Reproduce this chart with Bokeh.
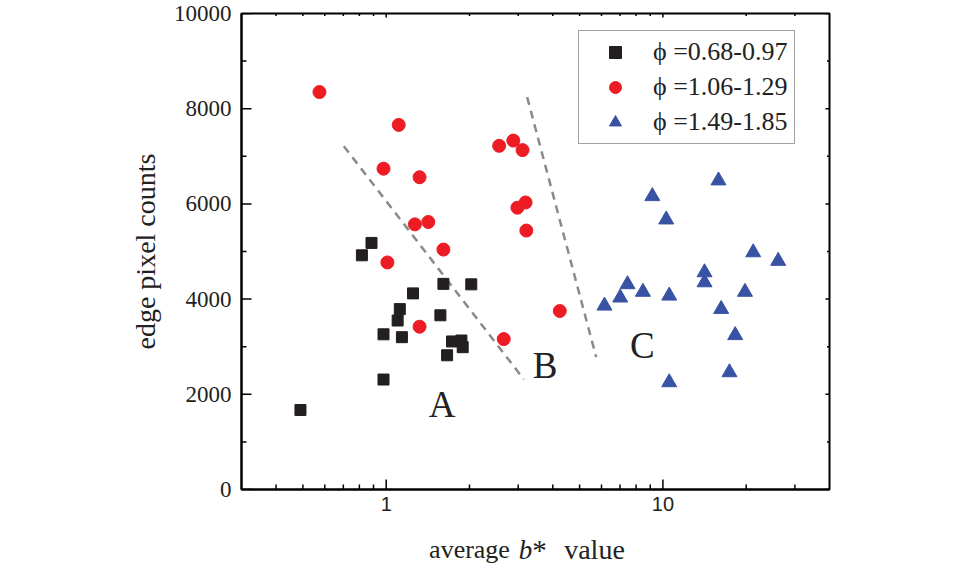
import numpy as np
from bokeh.plotting import figure
from bokeh.models import (FixedTicker, Label, Legend, LegendItem, ColumnDataSource)
from bokeh.core.properties import value
from bokeh.embed import file_html
from bokeh.resources import INLINE

# ---- data ----
sq_x = [0.49, 0.885, 0.817, 1.61, 2.03, 1.25, 1.12, 1.10, 1.57, 0.978, 1.14, 1.73, 1.87, 1.89, 1.66, 0.978]
sq_y = [1670, 5180, 4920, 4320, 4310, 4120, 3790, 3550, 3660, 3260, 3200, 3110, 3130, 2990, 2820, 2310]

ci_x = [0.574, 1.11, 0.978, 1.32, 2.56, 2.88, 3.11, 3.19, 2.98, 3.21, 1.27, 1.42, 1.61, 1.01, 1.32, 2.66, 4.24]
ci_y = [8350, 7660, 6740, 6560, 7220, 7330, 7130, 6030, 5920, 5440, 5570, 5620, 5040, 4770, 3420, 3160, 3750]

tr_x = [15.88, 9.16, 10.28, 21.2, 26.1, 14.14, 14.14, 7.45, 8.47, 7.01, 10.54, 19.8, 6.15, 16.24, 18.25, 17.4, 10.54]
tr_y = [6490, 6160, 5670, 4980, 4800, 4560, 4350, 4310, 4150, 4030, 4070, 4150, 3860, 3790, 3240, 2460, 2250]

series_labels = ["\u03d5 =0.68-0.97", "\u03d5 =1.06-1.29", "\u03d5 =1.49-1.85"]

line_ab_x = [0.703, 3.146]
line_ab_y = [7212, 2311]
line_bc_x = [3.232, 5.74]
line_bc_y = [8242, 2780]

region_names = ["A", "B", "C"]
region_x = [1.594, 3.755, 8.42]
region_y = [1786, 2605, 3025]

x_major = [1, 10]
x_minor = [0.4, 0.5, 0.6, 0.7, 0.8, 0.9, 2, 3, 4, 5, 6, 7, 8, 9, 20, 30]
y_major = [0, 2000, 4000, 6000, 8000, 10000]
y_minor = [1000, 3000, 5000, 7000, 9000]

X0, X1 = 0.3, 40.0
Y0, Y1 = 0.0, 10000.0

SERIF = "Liberation Serif"
SANS = "Liberation Sans"
INK = "#222222"

W, H = 960, 563
BL, BR, BT, BB = 241, 131, 13, 74
FW, FH = W - BL - BR, H - BT - BB

p = figure(width=W, height=H, x_axis_type="log", x_range=(X0, X1), y_range=(Y0, Y1),
           output_backend="svg", toolbar_location=None, title=None,
           min_border_left=BL, min_border_right=BR, min_border_top=BT, min_border_bottom=BB)
p.grid.visible = False
p.outline_line_color = "black"
p.outline_line_width = 2
p.background_fill_color = "white"
p.border_fill_color = "white"

xt = FixedTicker(ticks=x_major, minor_ticks=x_minor)
yt = FixedTicker(ticks=y_major, minor_ticks=y_minor)

xa = p.xaxis[0]
xa.ticker = xt
xa.major_tick_in = 0
xa.major_tick_out = 0
xa.minor_tick_in = 0
xa.minor_tick_out = 0
xa.axis_line_width = 2
xa.major_label_text_font = SANS
xa.major_label_text_font_size = "20px"
xa.major_label_text_color = INK
xa.major_label_standoff = 7
xa.major_label_overrides = {1: "1", 10: "10"}

ya = p.yaxis[0]
ya.ticker = yt
ya.major_tick_in = 0
ya.major_tick_out = 0
ya.minor_tick_in = 0
ya.minor_tick_out = 0
ya.axis_line_width = 2
ya.major_label_text_font = SERIF
ya.major_label_text_font_size = "23px"
ya.major_label_text_color = INK
ya.major_label_standoff = 10
ya.axis_label = "edge pixel counts"
ya.axis_label_text_font = SERIF
ya.axis_label_text_font_size = "28px"
ya.axis_label_text_font_style = "normal"
ya.axis_label_text_color = INK
ya.axis_label_standoff = 10

# ---- inward tick marks (positions from tick lists, lengths in pixels) ----
decade_px = FW / np.log10(X1 / X0)
ypp = (Y1 - Y0) / FH


def xlen(px):
    return 10 ** (px / decade_px)


tick_kw = dict(line_color="black", line_width=1.5)
# left
p.segment(x0=[X0] * len(y_major), y0=y_major, x1=[X0 * xlen(10)] * len(y_major), y1=y_major, **tick_kw)
p.segment(x0=[X0] * len(y_minor), y0=y_minor, x1=[X0 * xlen(5)] * len(y_minor), y1=y_minor, **tick_kw)
# right
p.segment(x0=[X1] * len(y_major), y0=y_major, x1=[X1 / xlen(4)] * len(y_major), y1=y_major, **tick_kw)
p.segment(x0=[X1] * len(y_minor), y0=y_minor, x1=[X1 / xlen(2.5)] * len(y_minor), y1=y_minor, **tick_kw)
# bottom
p.segment(x0=x_major, y0=[Y0] * len(x_major), x1=x_major, y1=[Y0 + 10 * ypp] * len(x_major), **tick_kw)
p.segment(x0=x_minor, y0=[Y0] * len(x_minor), x1=x_minor, y1=[Y0 + 5 * ypp] * len(x_minor), **tick_kw)
# top
p.segment(x0=x_major, y0=[Y1] * len(x_major), x1=x_major, y1=[Y1 - 4 * ypp] * len(x_major), **tick_kw)
p.segment(x0=x_minor, y0=[Y1] * len(x_minor), x1=x_minor, y1=[Y1 - 2.5 * ypp] * len(x_minor), **tick_kw)

# dashed boundaries
p.line(line_ab_x, line_ab_y, line_color="#8a8a8a", line_width=2.5, line_dash="8 6")
p.line(line_bc_x, line_bc_y, line_color="#8a8a8a", line_width=2.5, line_dash="8 6")

r1 = p.scatter(sq_x, sq_y, marker="square", size=11, fill_color="#231F20", line_color="#231F20")
r2 = p.scatter(ci_x, ci_y, marker="circle", size=13, fill_color="#ED1C24", line_color="#ED1C24")
r3 = p.scatter(tr_x, tr_y, marker="triangle", size=15, fill_color="#3953A4", line_color="#3953A4")

src = ColumnDataSource(dict(x=region_x, y=region_y, t=region_names))
p.text(x="x", y="y", text="t", source=src, text_font=value(SERIF), text_font_size="37px",
       text_align="center", text_baseline="middle", text_color=INK)

legend = Legend(items=[LegendItem(label=series_labels[0], renderers=[r1]),
                       LegendItem(label=series_labels[1], renderers=[r2]),
                       LegendItem(label=series_labels[2], renderers=[r3])],
                location=(337, 345))
legend.label_text_font = SERIF
legend.label_text_font_size = "26px"
legend.label_text_color = INK
legend.label_height = 30
legend.glyph_height = 30
legend.glyph_width = 60
legend.label_standoff = 8
legend.spacing = 5
legend.padding = 6
legend.margin = 0
legend.border_line_color = "#444444"
legend.border_line_width = 1.5
legend.background_fill_alpha = 1.0
p.add_layout(legend)

# x axis label "average b* value" with italic b.
# Pieces sit in side panels (so they are not clipped to the frame) but are positioned in
# data coordinates below the frame; centres given in pixels from the frame's left edge.
label_y = Y0 - 60 * ypp
pieces = [("average", 228, "normal", "26px", "below"),
          ("b", 284, "italic", "27px", "right"),
          ("*", 298, "normal", "29px", "right"),
          ("value", 353, "normal", "28px", "right")]
for txt, cx, style, fs, side in pieces:
    p.add_layout(Label(x=X0 * xlen(cx), y=label_y, text=txt, text_align="center",
                       text_baseline="alphabetic", text_font=SERIF, text_font_size=fs,
                       text_font_style=style, text_color=INK), side)

open("out.html", "w").write(file_html(p, INLINE))
